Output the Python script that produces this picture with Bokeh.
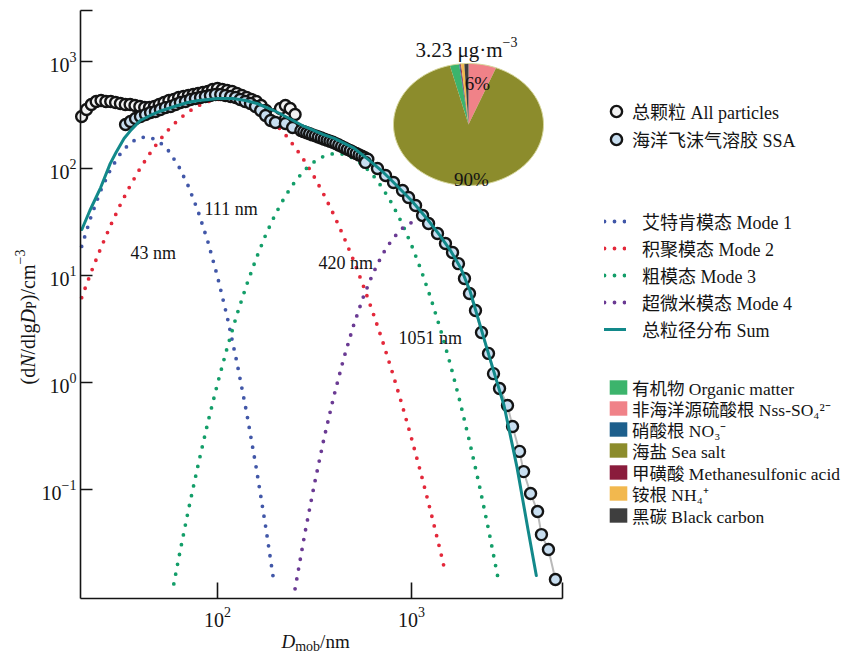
import numpy as np
from bokeh.plotting import figure
from bokeh.models import Range1d, FixedTicker, Label, ColumnDataSource, Legend, LegendItem
from bokeh.embed import file_html
from bokeh.resources import INLINE

# ------------------------------------------------------------------ data
# All particles (upper band of the measured distribution)
all_d = [19.95, 21.13, 22.39, 23.71, 25.12, 26.61, 28.18, 29.85, 31.62, 33.50,
         35.48, 37.58, 39.81, 42.17, 44.67, 47.32, 50.12, 53.09, 56.23, 59.57,
         63.10, 66.83, 70.79, 74.99, 79.43, 84.14, 89.13, 94.41, 100.0, 105.9,
         112.2, 118.9, 125.9, 133.4, 141.3, 149.6, 158.5, 167.9, 177.8, 188.4,
         199.5, 211.3, 223.9, 237.1, 251.2]
all_n = [306, 356, 396, 423, 432, 423, 423, 414, 405, 396,
         396, 388, 380, 372, 372, 380, 396, 414, 432, 441,
         461, 471, 481, 492, 502, 513, 524, 548, 560, 548,
         536, 524, 502, 481, 461, 441, 423, 388, 348, 293,
         320, 364, 388, 364, 320]

# Sea spray aerosol
ssa_d = [33.6, 35.6, 37.8, 40.1, 42.6, 45.2, 47.9, 50.8, 54.0, 57.3,
         60.8, 64.4, 68.4, 72.6, 77.0, 81.8, 86.7, 92.0, 97.7, 104,
         110, 117, 124, 131, 139, 148, 157, 167, 177, 188,
         199, 224, 244,
         269.2, 278.6, 288.4, 298.5, 309.0, 319.9, 331.1, 342.8, 354.8, 367.3,
         380.2, 393.6, 407.4, 421.7, 436.5, 451.9, 467.7, 484.2, 501.2, 518.8,
         537.0, 555.9, 575.4, 595.7,
         579, 668, 735, 808, 899, 966, 1050, 1141, 1225, 1362,
         1497, 1628, 1747, 1876, 1991, 2138, 2296, 2495, 2648, 2844,
         3126, 3319, 3606, 3784, 4111, 4467, 4677, 5082, 5521]
ssa_n = [258, 275, 293, 306, 320, 334, 341, 356, 371, 380,
         396, 414, 423, 441, 451, 461, 471, 481, 492, 492,
         481, 471, 461, 441, 423, 405, 380, 348, 313, 281,
         269, 263, 242,
         226, 221, 216, 211, 206, 202, 197, 193, 188, 184,
         180, 176, 171, 166, 161, 156, 151, 147, 142, 138,
         134, 130, 126, 122,
         114, 100, 86.1, 74.0, 62.3, 53.5, 45.1, 36.4, 30.6, 24.7,
         19.9, 16.4, 12.9, 9.37, 6.79, 4.71, 2.93, 1.87, 1.21, 0.879,
         0.610, 0.388, 0.227, 0.147, 0.0918, 0.0623, 0.0379, 0.0275, 0.0144]

# Fitted sum
sum_d = [20, 22, 25, 28, 30, 33, 36, 40, 45, 50, 60, 70, 80, 100, 120, 140, 160, 180,
         200, 240, 280, 350, 400, 500, 600, 700, 800, 1000, 1200, 1400, 1600, 1800,
         2000, 2500, 3000, 3500, 4000, 4400]
sum_n = [26.9, 40.5, 66.4, 111, 141, 191, 231, 281, 313, 341, 380, 414, 432, 451, 451,
         432, 405, 371, 341, 287, 247, 208, 191, 157, 121, 95.7, 75.6, 50.2, 34.1,
         23.7, 16.8, 11.6, 7.24, 1.83, 0.61, 0.161, 0.041, 0.0157]

# Modes
m1_d = [19.95, 22.39, 25.12, 28.18, 31.62, 35.48, 39.81, 44.67, 50.12, 56.23,
        63.10, 70.79, 79.43, 89.13, 100, 112.2, 125.9, 141.3, 158.5, 177.8, 195.0]
m1_n = [18.7, 36.4, 63.4, 98.8, 138, 174, 195, 197, 178, 145,
        105, 68.4, 39.9, 20.9, 9.80, 4.12, 1.55, 0.525, 0.159, 0.0432, 0.0140]

m2_d = [19.95, 22.39, 25.12, 28.18, 31.62, 35.48, 39.81, 44.67, 50.12, 56.23,
        63.10, 70.79, 79.43, 89.13, 100, 112.2, 125.9, 141.3, 158.5, 177.8,
        199.5, 223.9, 251.2, 281.8, 316.2, 354.8, 398.1, 446.7, 501.2, 562.3,
        631.0, 707.9, 794.3, 891.3, 1000, 1122, 1259, 1413, 1496]
m2_n = [6.21, 10.9, 18.3, 29.6, 46.2, 69.0, 99.3, 137, 183, 233,
        287, 339, 385, 421, 442, 447, 434, 404, 363, 313,
        259, 207, 158, 117, 82.8, 56.4, 36.9, 23.2, 14.1, 8.19,
        4.58, 2.47, 1.27, 0.633, 0.302, 0.139, 0.0614, 0.0261, 0.0166]

m3_d = [59.57, 63.10, 70.79, 79.43, 89.13, 100, 112.2, 125.9, 141.3, 158.5,
        177.8, 199.5, 223.9, 251.2, 281.8, 316.2, 354.8, 398.1, 446.7, 501.2,
        562.3, 631.0, 707.9, 794.3, 891.3, 1000, 1122, 1259, 1413, 1585,
        1778, 1995, 2239, 2512, 2818]
m3_n = [0.0131, 0.0227, 0.0641, 0.169, 0.420, 0.972, 2.11, 4.30, 8.16, 14.5,
        24.3, 37.9, 55.4, 75.7, 97.2, 116, 131, 138, 136, 125,
        108, 87.4, 66.1, 46.8, 31.1, 19.3, 11.2, 6.11, 3.11, 1.49,
        0.664, 0.278, 0.109, 0.040, 0.0137]

m4_d = [251.2, 281.8, 316.2, 354.8, 398.1, 446.7, 501.2, 562.3, 631.0, 707.9,
        794.3, 891.3, 1000, 1072]
m4_n = [0.0118, 0.0384, 0.113, 0.305, 0.746, 1.66, 3.35, 6.18, 10.3, 15.7,
        21.7, 27.4, 31.3, 32.5]

mode_names = ["艾特肯模态 Mode 1", "积聚模态 Mode 2", "粗模态 Mode 3", "超微米模态 Mode 4"]
mode_peaks = ["43 nm", "111 nm", "420 nm", "1051 nm"]

# Chemical composition (pie), legend order
comp_names = ["有机物 Organic matter", "非海洋源硫酸根 Nss-SO₄²⁻", "硝酸根 NO₃⁻",
              "海盐 Sea salt", "甲磺酸 Methanesulfonic acid", "铵根 NH₄⁺", "黑碳 Black carbon"]
comp_share = [2.0, 6.0, 0.2, 90.0, 0.2, 0.7, 0.9]
comp_order = [1, 3, 0, 2, 4, 5, 6]          # clockwise from 12 o'clock
pie_total = "3.23 μg·m"
pie_pct = ["6%", "90%"]

x_ticks = [100, 1000]
y_ticks = [0.1, 1, 10, 100, 1000]

# ------------------------------------------------------------------ style
SERIF = "Liberation Serif"
MIXED = "'Liberation Serif', 'Noto Sans CJK SC'"
INK = "#141414"
C_M1, C_M2, C_M3, C_M4 = "#4157a8", "#e3283a", "#139e69", "#6a3a93"
C_SUM = "#12898a"
comp_colors = ["#3cb46c", "#f08288", "#1d5f8c", "#8c8c2c", "#8a1c3c", "#f2b84e", "#3e3e3e"]

W, H = 854, 653
X0, X1 = 19.68, 6005.0          # axis extent
Y0, Y1 = 0.00958, 2997.0
FL, FR, FT, FB = 80, 562, 10, 598        # axis box edges (px)
LX = (np.log10(X1) - np.log10(X0)) / (FR - FL)
LY = (np.log10(Y1) - np.log10(Y0)) / (FB - FT)
XR0, XR1 = 10 ** (np.log10(X0) - FL * LX), 10 ** (np.log10(X0) + (W - FL) * LX)
YR0, YR1 = 10 ** (np.log10(Y1) - (H - FT) * LY), 10 ** (np.log10(Y1) + FT * LY)


def pdata(px, py):
    return (10 ** (np.log10(X0) + (px - FL) * LX),
            10 ** (np.log10(Y1) - (py - FT) * LY))


p = figure(width=W, height=H, x_axis_type="log", y_axis_type="log",
           x_range=Range1d(XR0, XR1), y_range=Range1d(YR0, YR1), title=None,
           output_backend="svg", toolbar_location=None,
           min_border_left=0, min_border_right=0, min_border_top=0, min_border_bottom=0)
p.outline_line_color = None
p.xgrid.visible = False
p.ygrid.visible = False
p.background_fill_color = "white"
p.border_fill_color = "white"

for ax in (p.xaxis[0], p.yaxis[0]):
    ax.axis_line_color = INK
    ax.axis_line_width = 1.6
    ax.major_tick_line_color = INK
    ax.major_tick_line_width = 1.6
    ax.major_tick_out = 0
    ax.minor_tick_line_color = None
    ax.major_label_text_font = SERIF
    ax.major_label_text_font_size = "20px"
    ax.major_label_text_color = INK
p.xaxis.fixed_location = Y0
p.yaxis.fixed_location = X0
p.xaxis.bounds = (X0, X1)
p.yaxis.bounds = (Y0, Y1)
p.xaxis.major_tick_in = 16
p.yaxis.major_tick_in = 12
x_cap, y_cap = 6000, 2990       # end caps of the open frame
p.xaxis.ticker = FixedTicker(ticks=x_ticks + [x_cap])
p.xaxis.major_label_overrides = {x_cap: ""}
p.yaxis.ticker = FixedTicker(ticks=[y_cap] + y_ticks)
p.yaxis.major_label_overrides = {y_cap: ""}
p.xaxis.major_label_standoff = 8
p.yaxis.major_label_standoff = 4

# ------------------------------------------------------------------ modes
mode_r = []
for d, n, c in [(m1_d, m1_n, C_M1), (m2_d, m2_n, C_M2), (m3_d, m3_n, C_M3), (m4_d, m4_n, C_M4)]:
    r = p.line(d, n, line_color=c, line_width=3.8, line_dash="0 10", line_cap="round")
    mode_r.append(r)

# ------------------------------------------------------------------ measured
p.line(ssa_d, ssa_n, line_color="#b9b9b9", line_width=2)
r_all = p.scatter(all_d, all_n, marker="circle", size=11, fill_color="#f3f3f3",
                  line_color=INK, line_width=2.4)
r_ssa = p.scatter(ssa_d, ssa_n, marker="circle", size=11, fill_color="#c8def0",
                  line_color=INK, line_width=2.4)
r_sum = p.line(sum_d, sum_n, line_color=C_SUM, line_width=3, line_cap="round")

# ------------------------------------------------------------------ pie
cx, cy = pdata(468, 124)
rxd, ryd = 75 * LX, 61 * LY
xs, ys = [None] * 7, [None] * 7
total = float(sum(comp_share))
start = np.pi / 2
for k in comp_order:
    sweep = 2 * np.pi * comp_share[k] / total
    t = np.linspace(start, start - sweep, max(4, int(comp_share[k] * 3) + 2))
    ux = np.concatenate([[0.0], np.cos(t)])
    uy = np.concatenate([[0.0], np.sin(t)])
    xs[k] = list(cx * 10 ** (rxd * ux))
    ys[k] = list(cy * 10 ** (ryd * uy))
    start -= sweep
pie_src = ColumnDataSource(dict(xs=xs, ys=ys, color=comp_colors))
r_pie = p.patches("xs", "ys", fill_color="color", line_color=None, source=pie_src)
tt = np.linspace(0, 2 * np.pi, 120)
p.line(list(cx * 10 ** (rxd * np.cos(tt))), list(cy * 10 ** (ryd * np.sin(tt))),
       line_color="#d6d69c", line_width=1)


# ------------------------------------------------------------------ texts
def put(px, py, text, size, italic=False, align="left", angle=0, font=SERIF):
    x, y = pdata(px, py)
    p.add_layout(Label(x=x, y=y, text=text, text_font=font, text_font_size=f"{size}px",
                       text_font_style="italic" if italic else "normal",
                       text_align=align, text_baseline="alphabetic",
                       angle=angle, angle_units="deg", text_color=INK))


# mode peak labels
for (px, py), t in zip([(130, 252), (204, 208), (318, 262), (398, 337)], mode_peaks):
    put(px, py, t, 18)

# pie texts
put(415, 49, pie_total, 21)
put(502, 41, "−3", 14)
put(477, 83, pie_pct[0], 19, align="center")
put(471, 179, pie_pct[1], 19, align="center")

# x axis label  D_mob/nm
put(281, 641, "D", 19, italic=True)
put(281 + 0.722 * 19, 646, "mob", 14)
put(281 + 0.722 * 19 + 1.778 * 14, 641, "/nm", 19)

# y axis label (dN/dlgD_P)/cm^-3, rotated
bx, y0 = 27, 384
pieces = [("(d", False, 20, 0, 0.833), ("N", True, 20, 0, 0.667), ("/dlg", False, 20, 0, 1.556),
          ("D", True, 20, 0, 0.722), ("P", False, 14, 4, 0.556), (")/cm", False, 20, 0, 1.833),
          ("−3", False, 14, -8, 1.064)]
yy = y0
for txt, it, sz, dx, em in pieces:
    put(bx + dx, yy, txt, sz, italic=it, angle=90)
    yy -= em * sz

# ------------------------------------------------------------------ legends
common = dict(orientation="vertical", padding=0, margin=0, border_line_color=None,
              background_fill_alpha=0, label_text_font=MIXED, label_text_color=INK)
leg1 = Legend(items=[LegendItem(label="总颗粒 All particles", renderers=[r_all]),
                     LegendItem(label="海洋飞沫气溶胶 SSA", renderers=[r_ssa])],
              location=(602, H - 153), glyph_width=28, glyph_height=28, label_height=28,
              spacing=0, label_standoff=2, label_text_font_size="18px", **common)
p.add_layout(leg1)
leg2 = Legend(items=[LegendItem(label=mode_names[i], renderers=[mode_r[i]]) for i in range(4)]
              + [LegendItem(label="总粒径分布 Sum", renderers=[r_sum])],
              location=(604, H - 342), glyph_width=22, glyph_height=20, label_height=20,
              spacing=1, label_standoff=16, label_text_font_size="18px", **common)
p.add_layout(leg2)
# composition legend: one row per entry so the rows can sit closer than the font height
comp_rows = [387, 408, 429, 450, 472, 493, 515]
for i, yc in enumerate(comp_rows):
    lg = Legend(items=[LegendItem(label=comp_names[i], renderers=[r_pie], index=i)],
                location=(607, H - (yc + 12.5)), glyph_width=22, glyph_height=18, label_height=18,
                spacing=0, label_standoff=3, label_text_font_size="17.5px", **common)
    p.add_layout(lg)

open("out.html", "w").write(file_html(p, INLINE))
